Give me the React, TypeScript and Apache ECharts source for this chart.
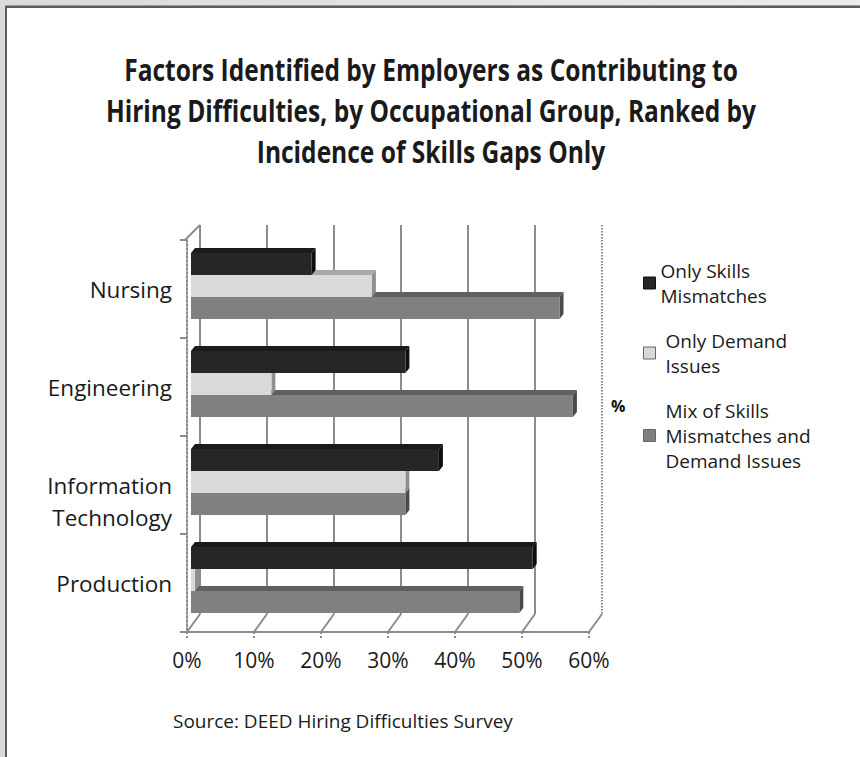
import React, { useEffect, useRef } from "react";
import * as echarts from "echarts";

const categories = ["Nursing", "Engineering", "Information\nTechnology", "Production"];
const onlySkills = [18, 32, 37, 51];
const onlyDemand = [27, 12, 32, 0.6];
const mixBoth = [55, 57, 32, 49];
const seriesNames = ["Only Skills Mismatches", "Only Demand Issues", "Mix of Skills Mismatches and Demand Issues"];
const legendLabels = ["Only Skills\nMismatches", "Only Demand\nIssues", "Mix of Skills\nMismatches and\nDemand Issues"];
const titleLines = [
  "Factors Identified by Employers as Contributing to",
  "Hiring Difficulties, by Occupational Group, Ranked by",
  "Incidence of Skills Gaps Only",
];
const sourceText = "Source: DEED Hiring Difficulties Survey";
const xTicks = { min: 0, max: 60, interval: 10 };

const FRONT = { left: 187, top: 240, width: 402, height: 392 };
const BACK = { left: 200, top: 225, width: 402, height: 389 };
const BARS = { left: 191, top: 237, width: 402, height: 392 };

const faces = [
  { front: "#262626", top: "#1b1b1b", side: "#0e0e0e" },
  { front: "#d9d9d9", top: "#a8a8a8", side: "#8f8f8f" },
  { front: "#808080", top: "#606060", side: "#4a4a4a" },
];

function measure(text: string, font: string): number {
  const c = document.createElement("canvas");
  const ctx = c.getContext("2d");
  if (!ctx) return 0;
  ctx.font = font;
  return ctx.measureText(text).width;
}

function makeRender(k: number) {
  const f = faces[k];
  return (params: any, api: any) => {
    const v = api.value(0);
    const c = api.value(1);
    const s = api.coord([0, c]);
    const e = api.coord([v, c]);
    const band = api.size([0, 1])[1];
    const h = band * 0.225;
    const y = s[1] - 1.5 * h + k * h;
    const x0 = s[0];
    const x1 = e[0];
    const dx = 4;
    const dy = -5;
    return {
      type: "group",
      children: [
        {
          type: "polygon",
          shape: { points: [[x0, y], [x0 + dx, y + dy], [x1 + dx, y + dy], [x1, y]] },
          style: { fill: f.top },
        },
        {
          type: "polygon",
          shape: { points: [[x1, y], [x1 + dx, y + dy], [x1 + dx, y + dy + h], [x1, y + h]] },
          style: { fill: f.side },
        },
        {
          type: "rect",
          shape: { x: x0, y: y, width: Math.max(x1 - x0, 0), height: h },
          style: { fill: f.front },
        },
      ],
    };
  };
}

export default function App() {
  const ref = useRef<HTMLDivElement>(null);
  useEffect(() => {
    if (!ref.current) return;
    const chart = echarts.init(ref.current, null, { renderer: "svg" });
    const seriesData = [onlySkills, onlyDemand, mixBoth];
    const gray = "#8c8c8c";

    const tickVals: number[] = [];
    for (let t = xTicks.min; t <= xTicks.max; t += xTicks.interval) tickVals.push(t);
    const scaleFront = (t: number) => FRONT.left + ((t - xTicks.min) / (xTicks.max - xTicks.min)) * FRONT.width;
    const scaleBack = (t: number) => BACK.left + ((t - xTicks.min) / (xTicks.max - xTicks.min)) * BACK.width;
    const fBottom = FRONT.top + FRONT.height;
    const bBottom = BACK.top + BACK.height;

    const graphics: any[] = tickVals.map((t) => ({
      type: "line",
      shape: { x1: scaleFront(t), y1: fBottom, x2: scaleBack(t), y2: bBottom },
      style: { stroke: gray, lineWidth: 2 },
      z: 1,
    }));
    graphics.push({
      type: "line",
      shape: { x1: FRONT.left - 2, y1: FRONT.top, x2: BACK.left, y2: BACK.top },
      style: { stroke: gray, lineWidth: 2 },
      z: 1,
    });
    graphics.push({
      type: "line",
      shape: { x1: BACK.left + BACK.width, y1: BACK.top, x2: BACK.left + BACK.width, y2: bBottom },
      style: { stroke: "#ffffff", lineWidth: 3 },
      z: 2,
    });
    graphics.push({
      type: "line",
      shape: { x1: BACK.left + BACK.width, y1: BACK.top, x2: BACK.left + BACK.width, y2: bBottom },
      style: { stroke: "#8a8a8a", lineWidth: 2, lineDash: [1.5, 1.5] },
      z: 3,
    });

    const titleFont = "bold 30px 'Open Sans'";
    const w1 = measure(titleLines[0], titleFont) || 800;
    const titleScale = 614 / w1;
    titleLines.forEach((line, i) => {
      graphics.push({
        type: "text",
        x: 431,
        y: 70 + i * 41,
        scaleX: titleScale,
        style: {
          text: line,
          fontSize: 30,
          fontWeight: "bold",
          fontFamily: "Open Sans",
          fill: "#1a1a1a",
          align: "center",
          verticalAlign: "middle",
        },
      });
    });

    const srcFont = "19px 'Open Sans'";
    const ws = measure(sourceText, srcFont) || 380;
    graphics.push({
      type: "text",
      x: 173,
      y: 721,
      scaleX: 340 / ws,
      style: {
        text: sourceText,
        fontSize: 19,
        fontFamily: "Open Sans",
        fill: "#1a1a1a",
        align: "left",
        verticalAlign: "middle",
      },
    });
    graphics.push({
      type: "text",
      x: 611,
      y: 406,
      style: {
        text: "%",
        fontSize: 16,
        fontWeight: "bold",
        fontFamily: "Open Sans",
        fill: "#111",
        align: "left",
        verticalAlign: "middle",
      },
    });

    chart.setOption({
      animation: false,
      legend: {
        orient: "vertical",
        left: 638,
        top: 253,
        itemWidth: 12,
        itemHeight: 12,
        itemGap: 20,
        data: seriesNames.map((n, i) => ({
          name: n,
          icon: "rect",
          itemStyle: { color: faces[i].front, borderColor: i === 0 ? "#111" : "#666", borderWidth: 1 },
          textStyle: i === 0 ? {} : { padding: [0, 0, 0, 5] },
        })),
        formatter: (name: string) => legendLabels[seriesNames.indexOf(name)],
        textStyle: { fontSize: 19, lineHeight: 25, fontFamily: "Open Sans", color: "#1a1a1a" },
      },
      grid: [{ ...FRONT }, { ...BACK }, { ...BARS }],
      xAxis: [
        {
          gridIndex: 0,
          type: "value",
          ...xTicks,
          axisLabel: {
            formatter: "{value}%",
            fontSize: 21,
            fontFamily: "Open Sans",
            color: "#1a1a1a",
            margin: 17,
          },
          axisLine: { show: true, lineStyle: { color: gray, width: 2 } },
          axisTick: { show: true, length: 7, lineStyle: { color: gray, width: 2, type: "dotted" } },
          splitLine: { show: false },
        },
        {
          gridIndex: 1,
          type: "value",
          ...xTicks,
          axisLabel: { show: false },
          axisLine: { show: false },
          axisTick: { show: false },
          splitLine: { show: true, lineStyle: { color: gray, width: 2 } },
        },
        { gridIndex: 2, type: "value", ...xTicks, show: false },
      ],
      yAxis: [
        {
          gridIndex: 0,
          type: "category",
          inverse: true,
          data: categories,
          axisLabel: {
            fontSize: 22.5,
            lineHeight: 32,
            fontFamily: "Open Sans",
            color: "#1a1a1a",
            margin: 15,
            align: "right",
            formatter: (v: string) => (v.indexOf("\n") >= 0 ? "\n" + v : v),
          },
          axisLine: { show: true, lineStyle: { color: gray, width: 2, type: "dotted" } },
          axisTick: { show: true, length: 7, lineStyle: { color: gray, width: 2 } },
          splitLine: { show: false },
        },
        { gridIndex: 1, type: "category", inverse: true, data: categories, show: false },
        { gridIndex: 2, type: "category", inverse: true, data: categories, show: false },
      ],
      series: seriesNames.map((n, k) => ({
        name: n,
        type: "custom",
        xAxisIndex: 2,
        yAxisIndex: 2,
        z: 5 - k,
        itemStyle: { color: faces[k].front },
        encode: { x: 0, y: 1 },
        renderItem: makeRender(k),
        data: seriesData[k].map((v, i) => [v, i]),
      })),
      graphic: graphics,
    });
    return () => chart.dispose();
  }, []);

  return (
    <div
      style={{
        position: "fixed",
        left: 0,
        top: 0,
        width: 860,
        height: 757,
        background: "linear-gradient(to right, #dadada, #ececec)",
        overflow: "hidden",
      }}
    >
      <div
        style={{
          position: "absolute",
          left: 5,
          top: 6,
          right: -10,
          bottom: -10,
          background: "#ffffff",
          borderTop: "2px solid #5c5c5c",
          borderLeft: "2px solid #5c5c5c",
          boxShadow: "0 -1px 0 #9a9a9a",
        }}
      />
      <div ref={ref} style={{ position: "absolute", left: 0, top: 0, width: 860, height: 757 }} />
    </div>
  );
}
